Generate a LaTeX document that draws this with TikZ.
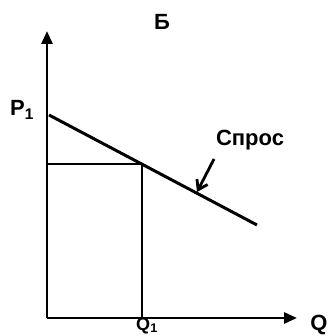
\documentclass[tikz,border=0pt]{standalone}
\usepackage{fontspec}
\setmainfont{Liberation Sans}
\usetikzlibrary{arrows.meta}
\begin{document}
\begin{tikzpicture}[x=1pt,y=-1pt,line width=3pt,
  every node/.style={font=\fontsize{22}{22}\selectfont\bfseries,inner sep=0pt},
  axis/.style={-{Triangle[length=13pt,width=11pt]},line width=2.8pt},
  pointer/.style={-{Straight Barb[length=9pt,width=12pt]},line width=2.8pt}]
  \useasboundingbox (0,0) rectangle (327,336);
  % axes
  \coordinate (O) at (47,318);
  \coordinate (ytop) at (47,31);
  \coordinate (xend) at (297,318);
  \draw[axis] (O) -- (ytop);
  \draw[axis] (O) -- (xend);
  % demand line and box
  \coordinate (d0) at (49,115);
  \coordinate (d1) at (257,225);
  \coordinate (E) at (142,164);
  \draw (d0) -- (d1);
  \draw[line width=2.6pt] (O |- E) -- (E) -- (E |- O);
  % labels
  \node (title) at (162,22) {Б};
  \node (p1) at (22,110) {P\textsubscript{1}};
  \node[anchor=base,font=\fontsize{18}{18}\selectfont\bfseries] (q1) at (147,330) {Q\textsubscript{1}};
  \node[anchor=north] (q) at (319,314) {Q};
  \node (dem) at (250,140) {Спрос};
  \coordinate (tip) at (197,192);
  \draw[pointer] (214,159) -- (tip);
\end{tikzpicture}
\end{document}
